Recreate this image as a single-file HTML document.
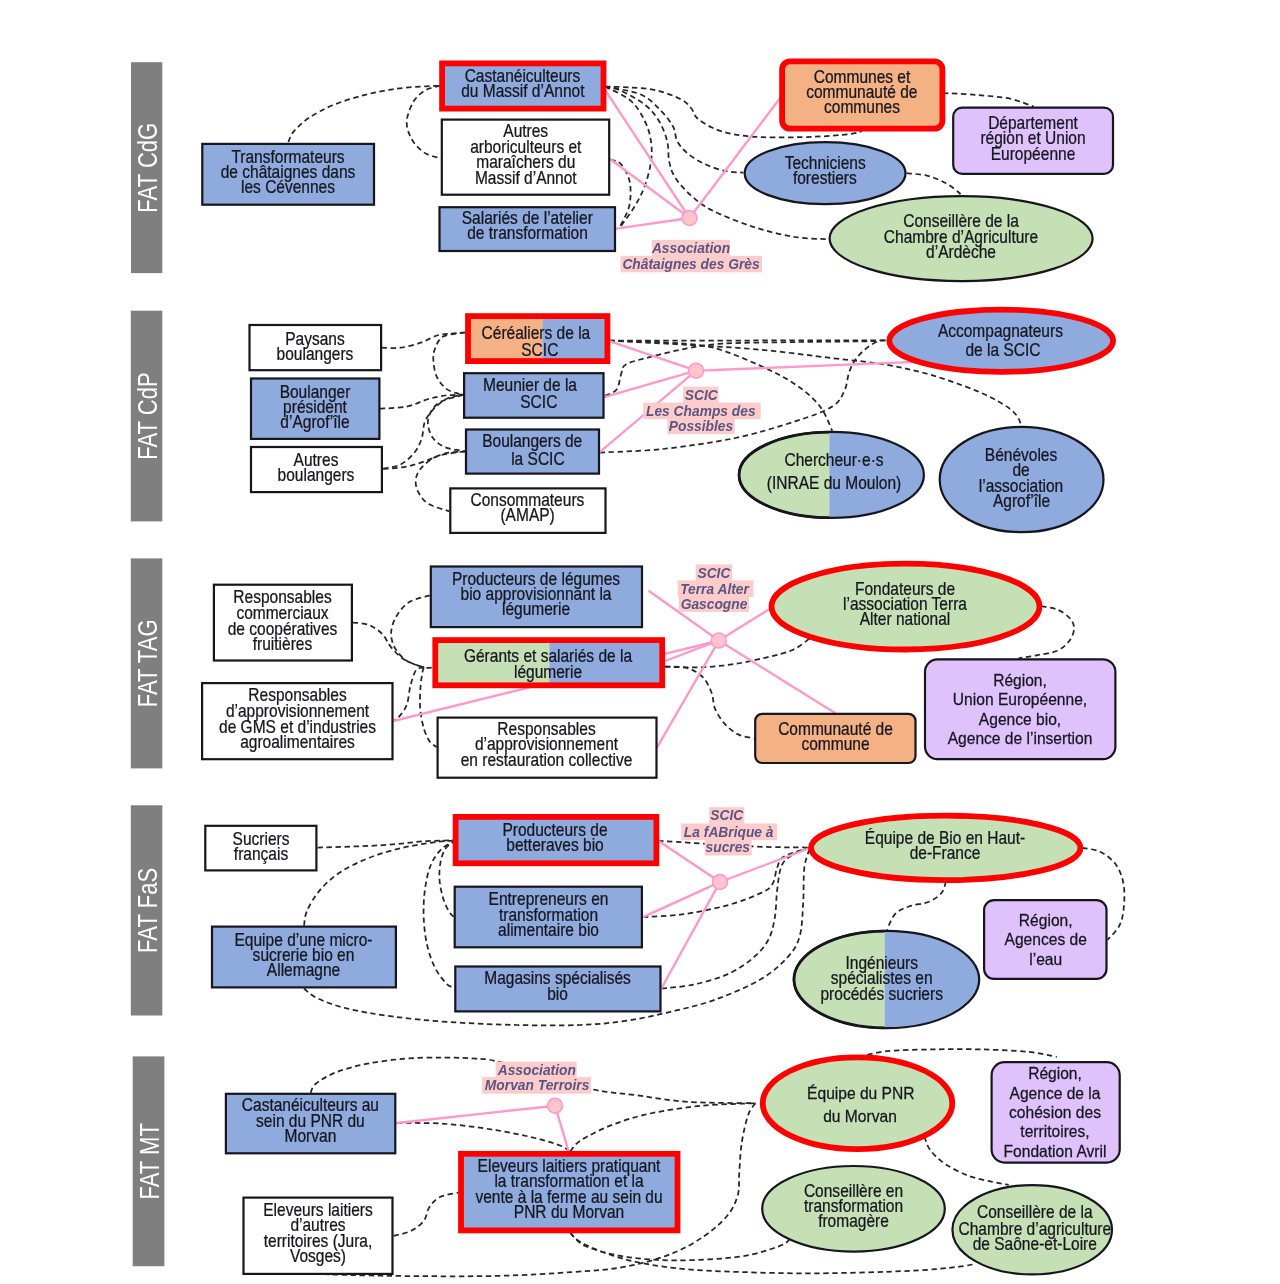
<!DOCTYPE html>
<html lang="fr"><head><meta charset="utf-8"><title>FAT</title>
<style>
html,body{margin:0;padding:0;background:#fff}
svg{display:block}
text{font-family:"Liberation Sans",sans-serif;text-anchor:middle}
.t{fill:#15151f;stroke:#15151f;stroke-width:0.25}
.l{fill:#5a5582;font-weight:bold;font-style:italic}
.b{fill:#fff}
.d{fill:none;stroke:#262626;stroke-width:1.75;stroke-dasharray:5.4 3.6}
.p{stroke:#ff99cc;stroke-width:2.4;stroke-linecap:round}
</style></head><body>
<svg width="1280" height="1284" viewBox="0 0 1280 1284">
<defs><filter id="bl" x="0" y="0" width="1280" height="1284" filterUnits="userSpaceOnUse"><feGaussianBlur stdDeviation="0.55"/></filter><clipPath id="c1"><rect x="468.0" y="316.1" width="139.4" height="45.0" rx="0"/></clipPath>
<clipPath id="c2"><ellipse cx="831.4" cy="474.9" rx="92.5" ry="43.0"/></clipPath>
<clipPath id="c3"><rect x="734.7" y="427.8" width="94.6" height="94.2"/></clipPath>
<clipPath id="c4"><rect x="435.3" y="640.1" width="226.9" height="45.2" rx="0"/></clipPath>
<clipPath id="c5"><ellipse cx="886.5" cy="979.5" rx="92.7" ry="48.6"/></clipPath>
<clipPath id="c6"><rect x="789.7" y="926.9" width="94.9" height="105.3"/></clipPath></defs>
<g filter="url(#bl)">
<rect x="131" y="62.2" width="31.30000000000001" height="210.90000000000003" fill="#7f7f7f"/>
<text class="b" font-size="28.5" transform="translate(156.8,167.7) rotate(-90) scale(0.775,1)">FAT CdG</text>
<rect x="130.8" y="310.7" width="31.5" height="210.7" fill="#7f7f7f"/>
<text class="b" font-size="28.5" transform="translate(156.8,416.0) rotate(-90) scale(0.775,1)">FAT CdP</text>
<rect x="130.8" y="558.4" width="31.5" height="210.0" fill="#7f7f7f"/>
<text class="b" font-size="28.5" transform="translate(156.8,663.4) rotate(-90) scale(0.775,1)">FAT TAG</text>
<rect x="130.8" y="805.3" width="31.5" height="210.20000000000005" fill="#7f7f7f"/>
<text class="b" font-size="28.5" transform="translate(156.8,910.4) rotate(-90) scale(0.775,1)">FAT FaS</text>
<rect x="132.7" y="1056.4" width="31.700000000000017" height="209.79999999999995" fill="#7f7f7f"/>
<text class="b" font-size="28.5" transform="translate(158.8,1161.3) rotate(-90) scale(0.775,1)">FAT MT</text>
<path d="M288.4,142.0 C289.2,140.3 290.0,135.9 293.4,131.9 C296.8,127.9 302.5,122.2 309.0,117.8 C315.5,113.4 323.4,109.1 332.5,105.3 C341.6,101.5 353.4,97.9 363.8,95.2 C374.2,92.5 384.6,90.4 395.0,88.9 C405.4,87.4 418.4,86.8 426.0,86.3 C433.6,85.8 437.9,85.9 440.3,85.8" class="d"/>
<path d="M440.3,85.8 C438.0,86.5 430.5,87.5 426.3,89.7 C422.1,91.9 418.2,95.3 415.3,99.0 C412.4,102.7 410.4,107.7 409.0,111.6 C407.6,115.5 406.7,118.9 406.7,122.5 C406.7,126.1 407.6,129.8 409.0,133.4 C410.4,137.1 412.4,141.0 415.3,144.4 C418.2,147.8 422.0,151.5 426.3,153.8 C430.6,156.1 438.6,157.6 441.0,158.4" class="d"/>
<path d="M605.0,86.6 C609.3,86.7 621.9,86.8 630.6,87.4 C639.3,88.1 648.5,88.5 657.0,90.5 C665.5,92.5 675.6,96.5 681.4,99.6 C687.2,102.6 689.0,105.7 691.6,108.8 C694.2,111.9 693.6,114.9 697.0,118.0 C700.4,121.1 706.0,124.8 711.9,127.5 C717.8,130.2 723.7,132.4 732.2,134.0 C740.7,135.6 749.2,136.7 762.7,137.2 C776.2,137.7 798.9,137.3 813.4,136.8 C827.9,136.3 841.9,135.0 850.0,134.0 C858.1,133.0 860.0,131.5 862.0,131.0" class="d"/>
<path d="M605.0,86.6 C611.0,87.9 631.5,90.5 640.8,94.5 C650.1,98.5 655.6,105.4 661.0,110.8 C666.4,116.2 670.6,121.9 673.3,127.0 C676.0,132.1 674.9,136.9 677.3,141.3 C679.7,145.7 683.1,149.7 687.5,153.4 C691.9,157.1 697.7,160.7 703.8,163.6 C709.9,166.5 717.4,169.2 724.0,170.7 C730.6,172.2 740.2,172.4 743.4,172.7" class="d"/>
<path d="M605.0,86.6 C607.6,87.2 613.9,87.5 620.5,90.5 C627.1,93.5 638.4,99.6 644.8,104.7 C651.2,109.8 655.3,114.9 659.0,121.0 C662.7,127.1 665.5,134.5 667.2,141.3 C668.9,148.1 667.9,155.5 669.2,161.6 C670.6,167.7 671.6,172.1 675.3,177.8 C679.0,183.5 685.5,190.6 691.6,196.0 C697.7,201.4 701.8,205.2 711.9,210.3 C722.0,215.4 739.0,222.2 752.5,226.6 C766.0,231.0 780.5,234.6 793.0,236.7 C805.5,238.8 821.9,238.8 827.7,239.2" class="d"/>
<path d="M605.0,86.6 C609.3,88.9 624.0,94.9 630.6,100.6 C637.2,106.3 641.4,114.2 644.8,121.0 C648.2,127.8 650.0,134.5 651.0,141.3 C652.0,148.1 652.0,154.2 651.0,161.6 C650.0,169.0 647.5,178.6 644.8,186.0 C642.1,193.4 638.8,199.5 634.7,206.3 C630.7,213.1 622.9,223.2 620.5,226.6" class="d"/>
<path d="M610.3,159.5 C612.0,160.2 617.5,160.5 620.5,163.6 C623.5,166.7 626.9,173.1 628.6,177.8 C630.3,182.5 630.6,186.9 630.6,192.0 C630.6,197.1 630.3,202.7 628.6,208.3 C626.9,213.9 621.9,222.7 620.5,225.6" class="d"/>
<path d="M943.0,93.0 C948.5,93.3 964.8,94.0 976.0,94.9 C987.2,95.9 1000.4,96.8 1010.0,98.7 C1019.6,100.7 1029.8,105.3 1033.7,106.6" class="d"/>
<path d="M906.6,173.2 C910.1,173.6 921.2,174.2 927.7,175.8 C934.2,177.4 940.5,180.3 945.6,183.0 C950.7,185.7 955.6,189.9 958.2,192.0 C960.8,194.1 960.7,194.9 961.2,195.5" class="d"/>
<line x1="689.5" y1="218.0" x2="604.0" y2="88.4" class="p"/>
<line x1="689.5" y1="218.0" x2="610.0" y2="159.0" class="p"/>
<line x1="689.5" y1="218.0" x2="616.4" y2="228.6" class="p"/>
<line x1="689.5" y1="218.0" x2="782.0" y2="95.5" class="p"/>
<path d="M381.6,347.7 C384.8,347.7 394.0,348.5 400.5,347.7 C407.0,346.9 414.7,344.7 420.8,342.7 C426.9,340.7 431.9,337.0 437.0,335.5 C442.1,334.0 446.6,334.0 451.3,333.5 C456.0,333.0 462.7,332.7 465.0,332.5" class="d"/>
<path d="M465.0,332.5 C461.4,333.2 448.1,333.9 443.1,336.6 C438.1,339.3 436.6,344.8 435.0,348.8 C433.4,352.9 433.1,356.2 433.4,360.9 C433.7,365.6 434.7,372.4 437.0,377.2 C439.3,381.9 442.9,386.4 447.2,389.4 C451.5,392.4 460.4,394.1 463.0,395.0" class="d"/>
<path d="M379.8,408.7 C384.3,408.4 398.8,408.1 406.6,406.6 C414.5,405.1 420.5,401.4 426.9,399.5 C433.3,397.6 439.2,396.3 445.2,395.5 C451.2,394.7 460.0,394.7 463.0,394.5" class="d"/>
<path d="M463.0,395.0 C459.4,396.1 446.4,398.8 441.1,401.6 C435.8,404.4 433.2,408.0 431.0,411.7 C428.8,415.4 427.6,419.5 427.9,423.9 C428.2,428.3 430.1,434.2 433.0,438.1 C435.9,442.0 439.9,445.1 445.2,447.3 C450.5,449.5 461.6,450.6 464.9,451.3" class="d"/>
<path d="M383.2,468.6 C386.1,467.9 395.2,467.2 400.5,464.5 C405.8,461.8 411.1,456.7 414.7,452.3 C418.2,447.9 420.1,443.2 421.8,438.1 C423.5,433.0 422.9,426.6 424.8,421.9 C426.7,417.2 429.3,413.6 433.0,409.7 C436.7,405.8 442.2,400.9 447.2,398.5 C452.2,396.1 460.4,395.6 463.0,395.0" class="d"/>
<path d="M383.2,469.0 C387.1,468.6 399.3,468.0 406.6,466.6 C413.9,465.2 420.5,462.7 426.9,460.5 C433.3,458.3 438.9,454.9 445.2,453.4 C451.5,451.9 461.6,451.6 464.9,451.3" class="d"/>
<path d="M464.9,451.3 C460.2,452.1 444.4,453.5 437.0,456.4 C429.6,459.3 424.4,464.5 420.8,468.6 C417.2,472.7 416.0,476.7 415.7,480.8 C415.4,484.9 416.6,489.1 418.8,493.0 C421.0,496.9 423.8,501.1 428.9,504.1 C434.0,507.2 445.8,510.1 449.2,511.3" class="d"/>
<path d="M609.4,340.7 C632.8,340.7 703.6,340.6 750.0,340.5 C796.4,340.4 864.9,340.3 887.9,340.3" class="d"/>
<path d="M609.4,340.7 C622.3,341.4 661.9,343.3 686.9,344.8 C711.9,346.3 735.3,347.4 759.5,349.6 C783.7,351.8 811.2,355.6 832.2,358.1 C853.2,360.6 868.9,361.8 885.3,364.6 C901.7,367.4 915.5,370.5 930.6,374.8 C945.7,379.1 963.8,385.7 975.9,390.6 C988.0,395.5 996.3,400.1 1003.1,404.2 C1009.9,408.3 1013.7,411.9 1016.7,415.5 C1019.7,419.1 1020.5,424.0 1021.2,425.7" class="d"/>
<path d="M609.4,340.7 C618.3,341.0 645.8,341.3 662.7,342.4 C679.7,343.5 695.0,343.4 711.1,347.2 C727.2,351.0 745.4,359.1 759.5,365.4 C773.6,371.7 785.8,377.9 795.9,384.8 C806.0,391.7 814.0,398.9 820.1,406.6 C826.2,414.3 830.2,426.8 832.2,430.8" class="d"/>
<path d="M605.0,395.7 C606.9,394.7 613.9,393.4 616.6,389.6 C619.4,385.8 619.9,376.9 621.5,372.7 C623.1,368.5 621.5,366.8 626.3,364.2 C631.1,361.6 640.4,359.5 650.5,356.9 C660.6,354.3 674.8,350.6 686.9,348.4 C699.0,346.2 704.4,344.7 723.2,343.6 C742.1,342.5 774.6,342.4 800.0,342.0 C825.4,341.6 863.2,341.3 875.8,341.2" class="d"/>
<path d="M599.7,452.6 C610.2,452.0 640.1,451.4 662.7,449.0 C685.3,446.6 713.1,442.6 735.3,438.0 C757.5,433.4 779.8,426.3 795.9,421.1 C812.0,415.9 824.1,411.7 832.2,406.6 C840.3,401.5 841.7,396.3 844.5,390.6 C847.3,384.9 847.2,377.8 849.1,372.5 C851.0,367.2 852.9,363.0 855.9,358.9 C858.9,354.8 863.4,350.6 867.2,347.6 C871.0,344.7 875.0,342.4 878.5,341.2 C882.0,340.0 886.3,340.4 887.9,340.3" class="d"/>
<line x1="696.1" y1="370.7" x2="609.4" y2="341.2" class="p"/>
<line x1="696.1" y1="370.7" x2="605.0" y2="396.9" class="p"/>
<line x1="696.1" y1="370.7" x2="599.7" y2="452.1" class="p"/>
<line x1="696.1" y1="370.7" x2="921.6" y2="361.6" class="p"/>
<path d="M352.7,622.5 C355.3,622.9 363.6,622.9 368.5,624.8 C373.4,626.7 378.3,630.0 382.1,633.8 C385.9,637.6 387.4,643.0 391.2,647.4 C395.0,651.8 399.3,656.6 404.8,659.9 C410.3,663.2 419.3,666.1 424.0,667.4 C428.7,668.7 431.5,667.5 433.0,667.5" class="d"/>
<path d="M429.7,595.3 C426.3,596.4 414.8,598.7 409.3,602.1 C403.8,605.5 399.8,610.8 396.8,615.7 C393.8,620.6 391.6,626.3 391.2,631.6 C390.8,636.9 392.0,642.5 394.6,647.4 C397.2,652.3 402.1,657.7 407.0,661.0 C411.9,664.3 421.2,666.3 424.0,667.4" class="d"/>
<path d="M424.0,667.4 C422.7,667.9 418.4,667.0 416.1,670.1 C413.8,673.2 411.9,680.2 410.4,685.9 C408.9,691.6 408.7,699.2 407.0,704.1 C405.3,709.0 402.3,712.8 400.2,715.4 C398.1,718.0 395.5,719.1 394.6,719.9" class="d"/>
<path d="M424.0,667.4 C423.8,667.9 423.5,667.0 422.9,670.1 C422.3,673.2 421.1,679.5 420.6,685.9 C420.2,692.3 419.6,701.4 420.2,708.6 C420.8,715.8 422.4,723.5 424.0,729.0 C425.6,734.5 427.6,738.4 429.7,741.4 C431.8,744.4 435.4,746.1 436.5,747.1" class="d"/>
<path d="M665.0,666.7 C670.5,666.8 686.8,667.8 698.0,667.4 C709.2,667.0 720.7,666.0 732.0,664.4 C743.3,662.8 755.7,660.0 765.9,657.6 C776.1,655.2 785.5,653.1 793.1,649.7 C800.7,646.3 808.2,639.3 811.2,637.2" class="d"/>
<path d="M665.0,666.7 C668.6,666.9 680.4,666.1 686.6,667.8 C692.9,669.5 698.3,672.8 702.5,676.9 C706.7,681.0 709.5,687.4 711.6,692.7 C713.7,698.0 712.7,703.3 715.0,708.6 C717.3,713.9 721.2,720.1 725.2,724.4 C729.2,728.7 733.8,732.2 738.7,734.6 C743.6,737.0 752.0,737.9 754.6,738.5" class="d"/>
<path d="M1041.2,606.2 C1043.8,606.7 1052.4,607.4 1057.1,609.4 C1061.8,611.4 1066.8,614.9 1069.6,618.0 C1072.4,621.1 1074.1,624.4 1074.1,628.2 C1074.1,632.0 1072.4,636.8 1069.6,640.6 C1066.8,644.4 1062.6,648.3 1057.1,650.8 C1051.6,653.2 1043.1,654.0 1036.7,655.3 C1030.3,656.5 1021.6,657.8 1018.6,658.3" class="d"/>
<line x1="718.8" y1="640.6" x2="649.3" y2="591.2" class="p"/>
<line x1="718.8" y1="640.6" x2="665.1" y2="661.0" class="p"/>
<line x1="718.8" y1="640.6" x2="393.4" y2="721.0" class="p"/>
<line x1="718.8" y1="640.6" x2="657.2" y2="747.1" class="p"/>
<line x1="718.8" y1="640.6" x2="771.6" y2="607.8" class="p"/>
<line x1="718.8" y1="640.6" x2="835.0" y2="713.1" class="p"/>
<path d="M317.6,847.6 C328.1,847.2 362.6,846.4 380.6,845.3 C398.7,844.2 413.2,842.0 425.9,841.2 C438.5,840.4 451.4,840.4 456.5,840.3" class="d"/>
<path d="M304.0,925.7 C304.5,923.2 304.4,916.9 307.0,911.0 C309.6,905.1 314.0,897.0 319.5,890.6 C325.0,884.2 331.5,878.0 339.8,872.5 C348.1,867.0 358.7,861.9 369.3,857.8 C379.9,853.6 392.0,850.2 403.3,847.6 C414.6,845.0 428.4,843.1 437.3,841.9 C446.2,840.7 453.3,840.6 456.5,840.3" class="d"/>
<path d="M456.5,840.3 C454.8,841.5 448.9,844.1 446.3,847.6 C443.7,851.1 441.8,855.9 440.7,861.2 C439.6,866.5 439.1,873.3 439.5,879.3 C439.9,885.3 441.4,892.1 442.9,897.4 C444.4,902.7 446.8,907.8 448.6,911.0 C450.4,914.2 452.8,915.8 453.6,916.7" class="d"/>
<path d="M456.5,840.3 C454.1,841.7 446.1,844.5 441.8,848.7 C437.5,852.9 433.3,858.7 430.5,865.7 C427.7,872.7 425.9,881.9 424.8,890.6 C423.7,899.3 423.3,908.7 423.7,917.8 C424.1,926.9 425.2,936.7 427.1,945.0 C429.0,953.3 431.8,961.3 435.0,967.7 C438.2,974.1 443.1,980.1 446.3,983.5 C449.5,986.9 452.9,987.2 454.2,988.0" class="d"/>
<path d="M304.0,988.5 C306.2,990.1 310.1,994.9 317.2,998.2 C324.3,1001.5 334.1,1005.4 346.6,1008.4 C359.1,1011.4 375.0,1014.1 392.0,1016.4 C409.0,1018.7 427.8,1020.6 448.6,1022.0 C469.4,1023.4 494.7,1024.5 516.6,1025.0 C538.5,1025.5 561.9,1025.7 580.0,1025.0 C598.1,1024.3 610.2,1023.1 625.3,1020.9 C640.4,1018.7 655.5,1015.4 670.6,1011.8 C685.7,1008.2 700.8,1004.9 715.9,999.4 C731.0,993.9 749.1,986.2 761.2,979.0 C773.3,971.8 782.0,963.5 788.4,956.3 C794.8,949.1 797.3,944.9 799.8,935.9 C802.3,926.9 802.5,913.3 803.2,902.0 C804.0,890.7 803.2,877.1 804.3,868.0 C805.4,858.9 809.0,851.0 810.0,847.6" class="d"/>
<path d="M658.2,840.8 C673.9,841.7 726.9,845.3 752.2,846.4 C777.5,847.5 800.4,847.4 810.0,847.6" class="d"/>
<path d="M643.0,917.1 C649.5,916.6 668.0,916.4 682.0,914.4 C696.0,912.4 714.1,908.9 727.3,905.3 C740.5,901.7 753.7,896.5 761.2,892.9 C768.8,889.3 770.0,887.9 772.6,883.8 C775.2,879.6 775.2,872.5 777.1,868.0 C779.0,863.5 778.4,860.0 783.9,856.6 C789.4,853.2 805.6,849.1 810.0,847.6" class="d"/>
<path d="M661.6,988.5 C666.9,987.9 682.3,987.0 693.3,984.6 C704.2,982.2 717.5,978.7 727.3,974.4 C737.1,970.1 745.4,964.2 752.2,958.6 C759.0,953.0 764.2,947.3 768.0,940.5 C771.8,933.7 773.3,926.1 774.8,917.8 C776.3,909.5 776.0,899.3 777.1,890.6 C778.2,881.9 779.0,871.7 781.6,865.7 C784.2,859.7 788.3,857.4 793.0,854.4 C797.7,851.4 807.2,848.7 810.0,847.6" class="d"/>
<path d="M945.9,881.6 C945.2,883.5 944.5,889.4 941.7,892.8 C938.9,896.2 934.4,899.5 929.0,901.8 C923.6,904.0 915.0,904.3 909.4,906.3 C903.8,908.3 899.0,910.0 895.3,913.9 C891.5,917.8 888.3,927.2 886.9,929.9" class="d"/>
<path d="M1082.3,847.8 C1085.3,848.5 1095.0,849.2 1100.6,852.0 C1106.2,854.8 1112.2,859.3 1116.0,864.7 C1119.8,870.1 1122.3,876.9 1123.6,884.4 C1124.9,891.9 1124.4,902.7 1123.6,909.7 C1122.8,916.7 1121.6,921.5 1118.9,926.5 C1116.2,931.5 1109.5,937.6 1107.6,939.8" class="d"/>
<line x1="720.0" y1="882.0" x2="658.2" y2="840.8" class="p"/>
<line x1="720.0" y1="882.0" x2="643.0" y2="917.1" class="p"/>
<line x1="720.0" y1="882.0" x2="661.6" y2="988.0" class="p"/>
<line x1="720.0" y1="882.0" x2="810.0" y2="848.0" class="p"/>
<path d="M310.6,1092.8 C311.5,1091.3 311.5,1087.2 315.8,1083.8 C320.1,1080.4 327.8,1075.5 336.4,1072.2 C345.0,1068.9 355.7,1066.0 367.3,1063.7 C378.9,1061.4 393.1,1059.6 406.0,1058.6 C418.9,1057.6 433.1,1057.5 444.7,1057.5 C456.3,1057.5 467.4,1058.1 475.6,1058.6 C483.8,1059.1 483.0,1058.4 493.7,1060.6 C504.4,1062.8 523.8,1067.3 540.0,1072.0 C556.2,1076.7 574.9,1085.1 591.1,1089.0 C607.3,1092.9 621.0,1093.2 637.3,1095.4 C653.6,1097.6 669.2,1100.6 688.9,1101.9 C708.6,1103.2 744.3,1103.0 755.4,1103.2" class="d"/>
<path d="M397.0,1123.0 C404.9,1123.1 428.2,1122.6 444.7,1123.8 C461.2,1125.0 481.2,1127.8 496.2,1130.2 C511.2,1132.6 524.1,1135.4 534.9,1138.0 C545.6,1140.6 554.9,1143.5 560.7,1145.7 C566.5,1147.9 568.2,1150.5 569.7,1151.4" class="d"/>
<path d="M570.3,1151.4 C572.0,1149.6 573.7,1144.9 580.6,1140.5 C587.5,1136.1 600.0,1129.6 611.6,1125.1 C623.2,1120.6 635.2,1116.7 650.2,1113.5 C665.2,1110.3 684.3,1107.4 701.8,1105.7 C719.3,1104.0 746.5,1103.6 755.4,1103.2" class="d"/>
<path d="M393.6,1235.9 C396.5,1235.1 406.1,1233.4 411.2,1230.8 C416.3,1228.2 421.0,1224.4 424.0,1220.5 C427.0,1216.6 426.6,1211.5 429.2,1207.6 C431.8,1203.7 434.7,1199.8 439.5,1197.3 C444.3,1194.8 455.0,1193.4 458.1,1192.6" class="d"/>
<path d="M755.4,1103.2 C754.2,1105.1 750.5,1108.2 748.2,1114.8 C745.9,1121.4 743.2,1133.2 741.7,1143.1 C740.2,1153.0 739.8,1165.5 739.2,1174.1 C738.6,1182.7 739.8,1187.8 737.9,1194.7 C736.0,1201.6 733.2,1208.4 727.6,1215.3 C722.0,1222.2 713.9,1229.5 704.4,1235.9 C694.9,1242.4 684.2,1248.8 670.9,1254.0 C657.6,1259.2 640.6,1263.9 624.4,1266.9 C608.2,1269.9 595.0,1270.5 573.6,1272.0 C552.2,1273.5 526.3,1275.2 496.2,1275.9 C466.1,1276.6 422.7,1276.2 393.1,1275.9 C363.5,1275.6 330.8,1274.4 318.4,1274.1" class="d"/>
<path d="M570.3,1232.8 C572.9,1235.0 576.8,1242.2 585.8,1246.2 C594.8,1250.2 609.4,1254.2 624.4,1256.6 C639.4,1259.0 656.6,1260.4 676.0,1260.4 C695.4,1260.4 723.3,1259.0 740.5,1256.6 C757.7,1254.2 771.0,1249.0 779.1,1246.2 C787.2,1243.4 787.7,1240.9 789.4,1239.8" class="d"/>
<path d="M570.3,1232.8 C572.4,1234.6 574.2,1239.3 583.2,1243.7 C592.2,1248.1 608.9,1255.0 624.4,1259.1 C639.9,1263.2 656.6,1266.0 676.0,1268.2 C695.4,1270.4 716.9,1271.2 740.5,1272.0 C764.1,1272.8 789.5,1273.5 817.8,1273.3 C846.1,1273.1 887.1,1271.9 910.3,1270.8 C933.5,1269.7 946.3,1268.1 957.2,1266.9 C968.1,1265.7 972.8,1264.3 975.9,1263.8" class="d"/>
<path d="M858.7,1056.9 C863.4,1056.0 874.4,1052.5 886.9,1051.2 C899.4,1050.0 918.1,1049.7 933.7,1049.4 C949.3,1049.1 965.0,1049.0 980.6,1049.4 C996.2,1049.8 1014.8,1050.5 1027.5,1051.7 C1040.2,1053.0 1051.9,1056.0 1056.8,1056.9" class="d"/>
<path d="M924.4,1136.6 C925.4,1138.8 926.7,1145.5 930.2,1150.1 C933.7,1154.7 939.0,1159.9 945.5,1164.2 C952.0,1168.5 961.1,1173.0 968.9,1175.9 C976.7,1178.8 985.7,1180.3 992.3,1181.8 C998.9,1183.3 1006.0,1184.3 1008.7,1184.8" class="d"/>
<line x1="555.0" y1="1105.7" x2="397.0" y2="1123.0" class="p"/>
<line x1="555.0" y1="1105.7" x2="568.9" y2="1152.1" class="p"/>
<rect x="202.3" y="143.9" width="171.7" height="60.8" rx="0" fill="#8faadc" stroke="#15151f" stroke-width="2.2"/>
<rect x="442.1" y="63.4" width="161.4" height="45.2" rx="0" fill="#8faadc" stroke="#ff0000" stroke-width="5.8"/>
<rect x="441.8" y="119.6" width="167.4" height="75.1" rx="0" fill="#ffffff" stroke="#15151f" stroke-width="2.2"/>
<rect x="439.5" y="207.2" width="175.5" height="43.8" rx="0" fill="#8faadc" stroke="#15151f" stroke-width="2.2"/>
<rect x="782.1" y="61.3" width="160.3" height="67.4" rx="8" fill="#f4b183" stroke="#ff0000" stroke-width="5.8"/>
<rect x="953.2" y="107.7" width="159.8" height="66.2" rx="9" fill="#dfc2fc" stroke="#15151f" stroke-width="2.2"/>
<ellipse cx="825.1" cy="173.2" rx="80.4" ry="31.0" fill="#8faadc" stroke="#15151f" stroke-width="2.2"/>
<ellipse cx="961.1" cy="238.6" rx="131.5" ry="42.5" fill="#c5e0b4" stroke="#15151f" stroke-width="2.2"/>
<rect x="249.5" y="325.0" width="131.6" height="45.2" rx="0" fill="#ffffff" stroke="#15151f" stroke-width="2.2"/>
<rect x="251.0" y="378.5" width="128.4" height="60.4" rx="0" fill="#8faadc" stroke="#15151f" stroke-width="2.2"/>
<rect x="251.0" y="447.0" width="130.9" height="45.1" rx="0" fill="#ffffff" stroke="#15151f" stroke-width="2.2"/>
<g clip-path="url(#c1)"><rect x="465.1" y="313.2" width="77.2" height="50.8" fill="#f4b183"/><rect x="542.3" y="313.2" width="68.0" height="50.8" fill="#8faadc"/></g>
<rect x="468.0" y="316.1" width="139.4" height="45.0" rx="0" fill="none" stroke="#ff0000" stroke-width="5.8"/>
<rect x="464.1" y="373.2" width="139.4" height="44.5" rx="0" fill="#8faadc" stroke="#15151f" stroke-width="2.2"/>
<rect x="466.0" y="429.5" width="133.0" height="44.1" rx="0" fill="#8faadc" stroke="#15151f" stroke-width="2.2"/>
<rect x="450.3" y="488.4" width="155.2" height="44.5" rx="0" fill="#ffffff" stroke="#15151f" stroke-width="2.2"/>
<ellipse cx="1001.2" cy="340.8" rx="111.9" ry="31.1" fill="#8faadc" stroke="#ff0000" stroke-width="5.8"/>
<g clip-path="url(#c2)"><rect x="737.7" y="430.8" width="91.6" height="88.2" fill="#c5e0b4"/><rect x="829.3" y="430.8" width="95.7" height="88.2" fill="#8faadc"/></g>
<ellipse cx="831.4" cy="474.9" rx="92.5" ry="43.0" fill="none" stroke="#15151f" stroke-width="2.2"/>
<ellipse cx="831.4" cy="474.9" rx="92.3" ry="42.8" fill="none" stroke="#15151f" stroke-width="2.8" clip-path="url(#c3)"/>
<ellipse cx="1021.6" cy="479.5" rx="81.9" ry="52.7" fill="#8faadc" stroke="#15151f" stroke-width="2.2"/>
<rect x="213.9" y="584.7" width="138.0" height="75.8" rx="0" fill="#ffffff" stroke="#15151f" stroke-width="2.2"/>
<rect x="202.1" y="683.1" width="190.4" height="76.1" rx="0" fill="#ffffff" stroke="#15151f" stroke-width="2.2"/>
<rect x="430.8" y="566.5" width="211.2" height="60.6" rx="0" fill="#8faadc" stroke="#15151f" stroke-width="2.2"/>
<g clip-path="url(#c4)"><rect x="432.4" y="637.2" width="116.9" height="51.0" fill="#c5e0b4"/><rect x="549.3" y="637.2" width="115.8" height="51.0" fill="#8faadc"/></g>
<rect x="435.3" y="640.1" width="226.9" height="45.2" rx="0" fill="none" stroke="#ff0000" stroke-width="5.8"/>
<rect x="437.6" y="717.6" width="218.9" height="60.1" rx="0" fill="#ffffff" stroke="#15151f" stroke-width="2.2"/>
<ellipse cx="905.5" cy="606.6" rx="134.0" ry="42.9" fill="#c5e0b4" stroke="#ff0000" stroke-width="5.8"/>
<rect x="925.0" y="659.4" width="190.4" height="99.7" rx="12.5" fill="#dfc2fc" stroke="#15151f" stroke-width="2.2"/>
<rect x="755.2" y="713.8" width="160.3" height="49.2" rx="7" fill="#f4b183" stroke="#15151f" stroke-width="2.2"/>
<rect x="205.3" y="825.8" width="111.1" height="44.6" rx="0" fill="#ffffff" stroke="#15151f" stroke-width="2.2"/>
<rect x="212.0" y="926.6" width="183.9" height="60.8" rx="0" fill="#8faadc" stroke="#15151f" stroke-width="2.2"/>
<rect x="455.6" y="816.9" width="200.8" height="46.4" rx="0" fill="#8faadc" stroke="#ff0000" stroke-width="5.8"/>
<rect x="454.7" y="886.7" width="187.2" height="60.6" rx="0" fill="#8faadc" stroke="#15151f" stroke-width="2.2"/>
<rect x="455.3" y="966.5" width="205.2" height="44.9" rx="0" fill="#8faadc" stroke="#15151f" stroke-width="2.2"/>
<ellipse cx="945.7" cy="847.9" rx="134.7" ry="32.2" fill="#c5e0b4" stroke="#ff0000" stroke-width="5.8"/>
<g clip-path="url(#c5)"><rect x="792.7" y="929.9" width="91.9" height="99.3" fill="#c5e0b4"/><rect x="884.6" y="929.9" width="95.6" height="99.3" fill="#8faadc"/></g>
<ellipse cx="886.5" cy="979.5" rx="92.7" ry="48.6" fill="none" stroke="#15151f" stroke-width="2.2"/>
<ellipse cx="886.5" cy="979.5" rx="92.5" ry="48.4" fill="none" stroke="#15151f" stroke-width="2.8" clip-path="url(#c6)"/>
<rect x="984.1" y="900.1" width="122.4" height="78.8" rx="10" fill="#dfc2fc" stroke="#15151f" stroke-width="2.2"/>
<rect x="225.9" y="1093.8" width="169.4" height="59.5" rx="0" fill="#8faadc" stroke="#15151f" stroke-width="2.2"/>
<rect x="243.5" y="1197.6" width="149.0" height="76.3" rx="0" fill="#ffffff" stroke="#15151f" stroke-width="2.2"/>
<rect x="461.0" y="1153.8" width="216.5" height="76.6" rx="0" fill="#8faadc" stroke="#ff0000" stroke-width="5.8"/>
<ellipse cx="857.5" cy="1103.2" rx="94.8" ry="45.9" fill="#c5e0b4" stroke="#ff0000" stroke-width="5.8"/>
<rect x="991.6" y="1062.2" width="128.1" height="100.4" rx="13" fill="#dfc2fc" stroke="#15151f" stroke-width="2.2"/>
<ellipse cx="853.5" cy="1208.8" rx="91.3" ry="42.8" fill="#c5e0b4" stroke="#15151f" stroke-width="2.2"/>
<ellipse cx="1032.2" cy="1229.8" rx="79.8" ry="44.6" fill="#c5e0b4" stroke="#15151f" stroke-width="2.2"/>
<circle cx="689.5" cy="218.0" r="7.5" fill="#ffc4cc" stroke="#ff99cc" stroke-width="1.5"/>
<circle cx="696.1" cy="370.7" r="7.5" fill="#ffc4cc" stroke="#ff99cc" stroke-width="1.5"/>
<circle cx="718.8" cy="640.6" r="7.5" fill="#ffc4cc" stroke="#ff99cc" stroke-width="1.5"/>
<circle cx="720.0" cy="882.0" r="7.5" fill="#ffc4cc" stroke="#ff99cc" stroke-width="1.5"/>
<circle cx="555.0" cy="1105.7" r="7.5" fill="#ffc4cc" stroke="#ff99cc" stroke-width="1.5"/>
<rect x="652.0" y="239.8" width="78.0" height="16.6" fill="#ffcccc"/>
<rect x="620.5" y="255.8" width="141.5" height="16.6" fill="#ffcccc"/>
<text class="l" font-size="15" transform="translate(691.0,253.0) scale(0.92,1)">Association</text>
<text class="l" font-size="15" transform="translate(691.0,269.0) scale(0.92,1)">Châtaignes des Grès</text>
<rect x="683.2" y="386.6" width="35.2" height="16.6" fill="#ffcccc"/>
<rect x="643.3" y="402.6" width="117.4" height="16.6" fill="#ffcccc"/>
<rect x="667.5" y="417.6" width="67.1" height="16.6" fill="#ffcccc"/>
<text class="l" font-size="15" transform="translate(701.2,399.8) scale(0.92,1)">SCIC</text>
<text class="l" font-size="15" transform="translate(700.8,415.8) scale(0.92,1)">Les Champs des</text>
<text class="l" font-size="15" transform="translate(701.0,430.8) scale(0.92,1)">Possibles</text>
<rect x="695.7" y="564.4" width="36.3" height="16.6" fill="#ffcccc"/>
<rect x="677.6" y="580.3" width="75.9" height="16.6" fill="#ffcccc"/>
<rect x="678.7" y="595.3" width="70.3" height="16.6" fill="#ffcccc"/>
<text class="l" font-size="15" transform="translate(713.9,577.6) scale(0.92,1)">SCIC</text>
<text class="l" font-size="15" transform="translate(714.5,593.5) scale(0.92,1)">Terra Alter</text>
<text class="l" font-size="15" transform="translate(714.0,608.5) scale(0.92,1)">Gascogne</text>
<rect x="709.1" y="807.2" width="35.2" height="16.6" fill="#ffcccc"/>
<rect x="681.3" y="823.5" width="95.8" height="16.6" fill="#ffcccc"/>
<rect x="704.6" y="838.9" width="47.1" height="16.6" fill="#ffcccc"/>
<text class="l" font-size="15" transform="translate(726.7,820.4) scale(0.92,1)">SCIC</text>
<text class="l" font-size="15" transform="translate(728.7,836.7) scale(0.92,1)">La fABrique à</text>
<text class="l" font-size="15" transform="translate(727.8,852.1) scale(0.92,1)">sucres</text>
<rect x="495.7" y="1061.6" width="81.0" height="16.6" fill="#ffcccc"/>
<rect x="482.1" y="1077.1" width="109.0" height="16.6" fill="#ffcccc"/>
<text class="l" font-size="15" transform="translate(536.8,1074.8) scale(0.92,1)">Association</text>
<text class="l" font-size="15" transform="translate(537.1,1090.3) scale(0.92,1)">Morvan Terroirs</text>
<text class="t" font-size="17.5" transform="translate(288.0,162.5) scale(0.887,1)">Transformateurs</text>
<text class="t" font-size="17.5" transform="translate(288.0,177.5) scale(0.887,1)">de châtaignes dans</text>
<text class="t" font-size="17.5" transform="translate(288.0,193.0) scale(0.887,1)">les Cévennes</text>
<text class="t" font-size="17.5" transform="translate(522.4,81.6) scale(0.887,1)">Castanéiculteurs</text>
<text class="t" font-size="17.5" transform="translate(522.8,96.8) scale(0.887,1)">du Massif d’Annot</text>
<text class="t" font-size="17.5" transform="translate(525.7,137.0) scale(0.887,1)">Autres</text>
<text class="t" font-size="17.5" transform="translate(525.8,152.7) scale(0.887,1)">arboriculteurs et</text>
<text class="t" font-size="17.5" transform="translate(525.8,168.2) scale(0.887,1)">maraîchers du</text>
<text class="t" font-size="17.5" transform="translate(525.8,183.7) scale(0.887,1)">Massif d’Annot</text>
<text class="t" font-size="17.5" transform="translate(527.3,224.2) scale(0.887,1)">Salariés de l’atelier</text>
<text class="t" font-size="17.5" transform="translate(527.5,239.4) scale(0.887,1)">de transformation</text>
<text class="t" font-size="17.5" transform="translate(862.0,82.8) scale(0.887,1)">Communes et</text>
<text class="t" font-size="17.5" transform="translate(861.8,98.1) scale(0.887,1)">communauté de</text>
<text class="t" font-size="17.5" transform="translate(862.0,113.4) scale(0.887,1)">communes</text>
<text class="t" font-size="17.5" transform="translate(1033.0,128.7) scale(0.887,1)">Département</text>
<text class="t" font-size="17.5" transform="translate(1033.0,143.5) scale(0.887,1)">région et Union</text>
<text class="t" font-size="17.5" transform="translate(1033.0,159.7) scale(0.887,1)">Européenne</text>
<text class="t" font-size="17.5" transform="translate(825.2,169.1) scale(0.887,1)">Techniciens</text>
<text class="t" font-size="17.5" transform="translate(824.8,184.4) scale(0.887,1)">forestiers</text>
<text class="t" font-size="17.5" transform="translate(961.0,226.8) scale(0.887,1)">Conseillère de la</text>
<text class="t" font-size="17.5" transform="translate(961.0,242.6) scale(0.887,1)">Chambre d’Agriculture</text>
<text class="t" font-size="17.5" transform="translate(961.0,257.8) scale(0.887,1)">d’Ardèche</text>
<text class="t" font-size="17.5" transform="translate(315.0,344.5) scale(0.887,1)">Paysans</text>
<text class="t" font-size="17.5" transform="translate(315.0,360.0) scale(0.887,1)">boulangers</text>
<text class="t" font-size="17.5" transform="translate(315.0,397.5) scale(0.887,1)">Boulanger</text>
<text class="t" font-size="17.5" transform="translate(315.0,412.5) scale(0.887,1)">président</text>
<text class="t" font-size="17.5" transform="translate(315.0,428.0) scale(0.887,1)">d’Agrof’île</text>
<text class="t" font-size="17.5" transform="translate(316.0,466.0) scale(0.887,1)">Autres</text>
<text class="t" font-size="17.5" transform="translate(316.0,481.0) scale(0.887,1)">boulangers</text>
<text class="t" font-size="17.5" transform="translate(535.9,338.7) scale(0.887,1)">Céréaliers de la</text>
<text class="t" font-size="17.5" transform="translate(539.8,355.8) scale(0.887,1)">SCIC</text>
<text class="t" font-size="17.5" transform="translate(530.0,390.9) scale(0.887,1)">Meunier de la</text>
<text class="t" font-size="17.5" transform="translate(538.8,408.2) scale(0.887,1)">SCIC</text>
<text class="t" font-size="17.5" transform="translate(532.2,447.2) scale(0.887,1)">Boulangers de</text>
<text class="t" font-size="17.5" transform="translate(537.9,465.0) scale(0.887,1)">la SCIC</text>
<text class="t" font-size="17.5" transform="translate(527.4,506.1) scale(0.887,1)">Consommateurs</text>
<text class="t" font-size="17.5" transform="translate(527.6,521.3) scale(0.887,1)">(AMAP)</text>
<text class="t" font-size="17.5" transform="translate(1000.4,336.7) scale(0.887,1)">Accompagnateurs</text>
<text class="t" font-size="17.5" transform="translate(1003.0,356.0) scale(0.887,1)">de la SCIC</text>
<text class="t" font-size="17.5" transform="translate(834.0,466.4) scale(0.887,1)">Chercheur·e·s</text>
<text class="t" font-size="17.5" transform="translate(834.0,488.9) scale(0.887,1)">(INRAE du Moulon)</text>
<text class="t" font-size="17.5" transform="translate(1021.0,460.9) scale(0.887,1)">Bénévoles</text>
<text class="t" font-size="17.5" transform="translate(1021.0,476.1) scale(0.887,1)">de</text>
<text class="t" font-size="17.5" transform="translate(1021.0,491.9) scale(0.887,1)">l’association</text>
<text class="t" font-size="17.5" transform="translate(1021.5,507.1) scale(0.887,1)">Agrof’île</text>
<text class="t" font-size="17.5" transform="translate(282.5,602.5) scale(0.887,1)">Responsables</text>
<text class="t" font-size="17.5" transform="translate(282.5,618.5) scale(0.887,1)">commerciaux</text>
<text class="t" font-size="17.5" transform="translate(282.5,634.5) scale(0.887,1)">de coopératives</text>
<text class="t" font-size="17.5" transform="translate(282.5,649.5) scale(0.887,1)">fruitières</text>
<text class="t" font-size="17.5" transform="translate(297.5,701.0) scale(0.887,1)">Responsables</text>
<text class="t" font-size="17.5" transform="translate(297.5,717.0) scale(0.887,1)">d’approvisionnement</text>
<text class="t" font-size="17.5" transform="translate(297.5,732.5) scale(0.887,1)">de GMS et d’industries</text>
<text class="t" font-size="17.5" transform="translate(297.5,748.0) scale(0.887,1)">agroalimentaires</text>
<text class="t" font-size="17.5" transform="translate(536.0,584.5) scale(0.887,1)">Producteurs de légumes</text>
<text class="t" font-size="17.5" transform="translate(536.0,599.9) scale(0.887,1)">bio approvisionnant la</text>
<text class="t" font-size="17.5" transform="translate(536.0,615.1) scale(0.887,1)">légumerie</text>
<text class="t" font-size="17.5" transform="translate(548.0,662.0) scale(0.887,1)">Gérants et salariés de la</text>
<text class="t" font-size="17.5" transform="translate(548.0,677.8) scale(0.887,1)">légumerie</text>
<text class="t" font-size="17.5" transform="translate(546.5,734.5) scale(0.887,1)">Responsables</text>
<text class="t" font-size="17.5" transform="translate(546.5,750.3) scale(0.887,1)">d’approvisionnement</text>
<text class="t" font-size="17.5" transform="translate(546.5,765.7) scale(0.887,1)">en restauration collective</text>
<text class="t" font-size="17.5" transform="translate(905.0,594.7) scale(0.887,1)">Fondateurs de</text>
<text class="t" font-size="17.5" transform="translate(905.0,609.9) scale(0.887,1)">l’association Terra</text>
<text class="t" font-size="17.5" transform="translate(905.0,625.3) scale(0.887,1)">Alter national</text>
<text class="t" font-size="16.5" transform="translate(1020.0,686.0) scale(0.945,1)">Région,</text>
<text class="t" font-size="16.5" transform="translate(1020.0,705.2) scale(0.945,1)">Union Européenne,</text>
<text class="t" font-size="16.5" transform="translate(1020.0,724.5) scale(0.945,1)">Agence bio,</text>
<text class="t" font-size="16.5" transform="translate(1020.0,743.5) scale(0.945,1)">Agence de l’insertion</text>
<text class="t" font-size="17.5" transform="translate(835.5,734.5) scale(0.887,1)">Communauté de</text>
<text class="t" font-size="17.5" transform="translate(835.5,749.9) scale(0.887,1)">commune</text>
<text class="t" font-size="17.5" transform="translate(261.0,844.5) scale(0.887,1)">Sucriers</text>
<text class="t" font-size="17.5" transform="translate(261.0,860.0) scale(0.887,1)">français</text>
<text class="t" font-size="17.5" transform="translate(303.5,945.5) scale(0.887,1)">Equipe d’une micro-</text>
<text class="t" font-size="17.5" transform="translate(303.5,960.9) scale(0.887,1)">sucrerie bio en</text>
<text class="t" font-size="17.5" transform="translate(303.5,976.1) scale(0.887,1)">Allemagne</text>
<text class="t" font-size="17.5" transform="translate(555.0,835.6) scale(0.887,1)">Producteurs de</text>
<text class="t" font-size="17.5" transform="translate(555.0,850.8) scale(0.887,1)">betteraves bio</text>
<text class="t" font-size="17.5" transform="translate(548.5,905.2) scale(0.887,1)">Entrepreneurs en</text>
<text class="t" font-size="17.5" transform="translate(548.5,920.6) scale(0.887,1)">transformation</text>
<text class="t" font-size="17.5" transform="translate(548.5,936.0) scale(0.887,1)">alimentaire bio</text>
<text class="t" font-size="17.5" transform="translate(557.5,984.0) scale(0.887,1)">Magasins spécialisés</text>
<text class="t" font-size="17.5" transform="translate(557.5,999.9) scale(0.887,1)">bio</text>
<text class="t" font-size="17.5" transform="translate(945.0,843.5) scale(0.887,1)">Équipe de Bio en Haut-</text>
<text class="t" font-size="17.5" transform="translate(945.0,859.0) scale(0.887,1)">de-France</text>
<text class="t" font-size="17.5" transform="translate(881.7,968.7) scale(0.887,1)">Ingénieurs</text>
<text class="t" font-size="17.5" transform="translate(881.7,983.9) scale(0.887,1)">spécialistes en</text>
<text class="t" font-size="17.5" transform="translate(881.7,999.6) scale(0.887,1)">procédés sucriers</text>
<text class="t" font-size="16.5" transform="translate(1045.7,925.6) scale(0.945,1)">Région,</text>
<text class="t" font-size="16.5" transform="translate(1045.7,945.3) scale(0.945,1)">Agences de</text>
<text class="t" font-size="16.5" transform="translate(1045.7,965.0) scale(0.945,1)">l’eau</text>
<text class="t" font-size="17.5" transform="translate(310.4,1111.4) scale(0.887,1)">Castanéiculteurs au</text>
<text class="t" font-size="17.5" transform="translate(310.4,1126.9) scale(0.887,1)">sein du PNR du</text>
<text class="t" font-size="17.5" transform="translate(310.4,1141.8) scale(0.887,1)">Morvan</text>
<text class="t" font-size="17.5" transform="translate(318.0,1215.8) scale(0.887,1)">Eleveurs laitiers</text>
<text class="t" font-size="17.5" transform="translate(318.0,1231.3) scale(0.887,1)">d’autres</text>
<text class="t" font-size="17.5" transform="translate(318.0,1246.7) scale(0.887,1)">territoires (Jura,</text>
<text class="t" font-size="17.5" transform="translate(318.0,1262.2) scale(0.887,1)">Vosges)</text>
<text class="t" font-size="17.5" transform="translate(569.0,1172.0) scale(0.887,1)">Eleveurs laitiers pratiquant</text>
<text class="t" font-size="17.5" transform="translate(569.0,1187.4) scale(0.887,1)">la transformation et la</text>
<text class="t" font-size="17.5" transform="translate(569.0,1202.9) scale(0.887,1)">vente à la ferme au sein du</text>
<text class="t" font-size="17.5" transform="translate(569.0,1218.4) scale(0.887,1)">PNR du Morvan</text>
<text class="t" font-size="16.5" transform="translate(860.8,1099.2) scale(0.945,1)">Équipe du PNR</text>
<text class="t" font-size="16.5" transform="translate(860.0,1121.9) scale(0.945,1)">du Morvan</text>
<text class="t" font-size="16.5" transform="translate(1055.0,1079.2) scale(0.945,1)">Région,</text>
<text class="t" font-size="16.5" transform="translate(1055.0,1098.6) scale(0.945,1)">Agence de la</text>
<text class="t" font-size="16.5" transform="translate(1055.0,1117.8) scale(0.945,1)">cohésion des</text>
<text class="t" font-size="16.5" transform="translate(1055.0,1137.1) scale(0.945,1)">territoires,</text>
<text class="t" font-size="16.5" transform="translate(1055.0,1156.5) scale(0.945,1)">Fondation Avril</text>
<text class="t" font-size="17.5" transform="translate(853.5,1196.5) scale(0.887,1)">Conseillère en</text>
<text class="t" font-size="17.5" transform="translate(853.5,1211.9) scale(0.887,1)">transformation</text>
<text class="t" font-size="17.5" transform="translate(853.5,1227.4) scale(0.887,1)">fromagère</text>
<text class="t" font-size="17.5" transform="translate(1034.8,1218.1) scale(0.887,1)">Conseillère de la</text>
<text class="t" font-size="17.5" transform="translate(1034.8,1234.5) scale(0.887,1)">Chambre d’agriculture</text>
<text class="t" font-size="17.5" transform="translate(1034.8,1249.8) scale(0.887,1)">de Saône-et-Loire</text>
</g>
</svg>
</body></html>
